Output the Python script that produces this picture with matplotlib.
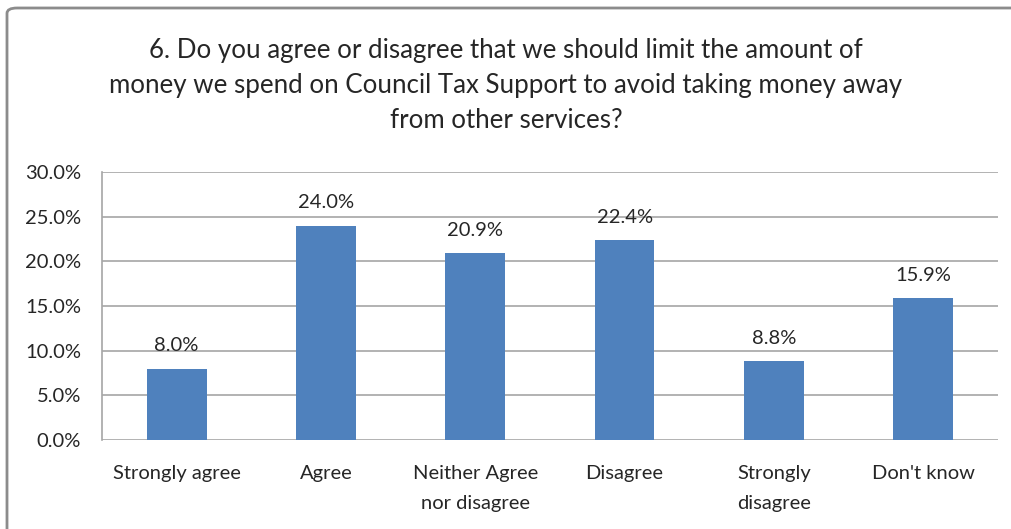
import numpy as np
import matplotlib
matplotlib.use('Agg')
import matplotlib.pyplot as plt
from matplotlib.patches import FancyBboxPatch

plt.rcParams['font.family'] = ['Lato', 'DejaVu Sans']

categories = ['Strongly agree', 'Agree', 'Neither Agree\nnor disagree', 'Disagree',
              'Strongly\ndisagree', "Don't know"]
values = [8.0, 24.0, 20.9, 22.4, 8.8, 15.9]
yticks = [0, 5, 10, 15, 20, 25, 30]
title = ('6. Do you agree or disagree that we should limit the amount of\n'
         'money we spend on Council Tax Support to avoid taking money away\n'
         'from other services?')

fig = plt.figure(figsize=(10.12, 5.29), dpi=100)
ax = fig.add_axes([0.1008, 0.168, 0.8852, 0.507])

# outer chart frame
frame = FancyBboxPatch((7 / 1012, -0.2), 1.2, 1.2 - 8 / 529,
                       boxstyle='round,pad=0,rounding_size=0.01',
                       transform=fig.transFigure, facecolor='none',
                       edgecolor='#8c8c8c', linewidth=2, zorder=10)
fig.patches.append(frame)

x = np.arange(len(categories))
ax.bar(x, values, width=0.4, color='#4F81BD', zorder=3)
for xi, v in zip(x, values):
    ax.text(xi, v + 1.6, f'{v:.1f}%', ha='center', va='bottom', fontsize=14.5, color='#262626')

ax.set_xlim(-0.5, len(categories) - 0.5)
ax.set_ylim(0, 30)
ax.set_yticks(yticks)
ax.set_yticklabels([f'{t:.1f}%' for t in yticks], fontsize=14.5, color='#262626')
ax.set_xticks(x)
ax.set_xticklabels(categories, fontsize=14.5, color='#262626', linespacing=1.9)
ax.tick_params(axis='x', length=0, pad=18)
ax.tick_params(axis='y', length=0, pad=15)
ax.grid(axis='y', color='#a6a6a6', linewidth=1.2, zorder=0)
for side in ['top', 'right', 'bottom']:
    ax.spines[side].set_visible(False)
ax.spines['left'].set_color('#a6a6a6')
ax.spines['left'].set_linewidth(1.2)

fig.text(0.5, 0.928, title, ha='center', va='top', fontsize=18.6, color='#262626',
         linespacing=1.5)

fig.savefig('out.png', dpi=100)
